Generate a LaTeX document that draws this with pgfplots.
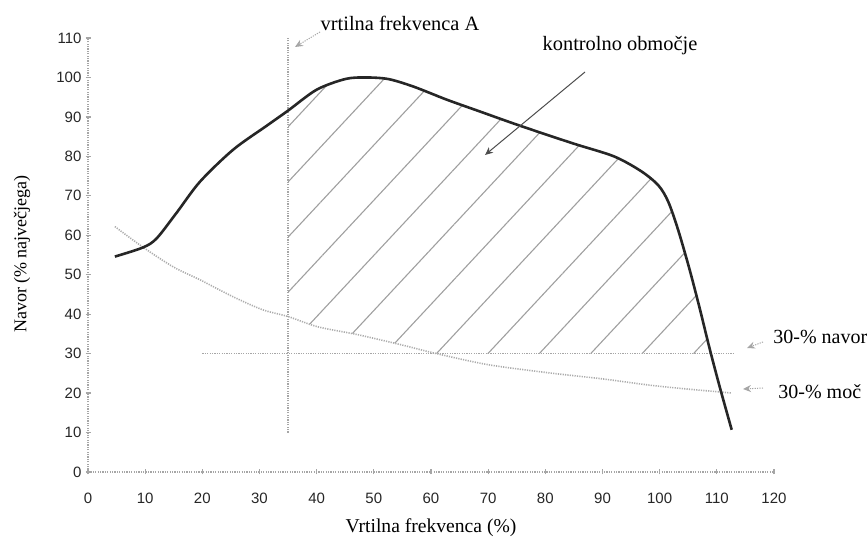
\documentclass[border=0pt]{standalone}
\usepackage{fontspec}
\setmainfont{Liberation Serif}
\newfontfamily\ticksans{Liberation Sans}
\usepackage{pgfplots}
\pgfplotsset{compat=1.18}
\usepgfplotslibrary{fillbetween}
\usetikzlibrary{patterns.meta,arrows.meta}

% full-load torque curve (% of maximum) over engine speed (%)
\pgfplotstableread{
x y
4.7 54.6
9.6 56.9
12 59.2
15.5 65.7
19.6 73.6
25.4 81.7
31.3 87.8
35 91.6
40 96.9
45 99.6
48.5 100
52.5 99.6
56.9 97.7
62.7 94.4
68.5 91.4
75.5 87.8
84.8 83.3
92 80
96.8 76.2
99.8 72.6
101.5 68.5
103.2 61.5
105.2 51.5
107 41.5
108.7 31.5
110.5 21.6
112.6 10.7
}\torque

% 30 % power curve
\pgfplotstableread{
x y
4.7 62.2
9.6 57
14.9 52
19.6 48.7
25.4 44.4
30.6 41.1
35 39.4
40.2 36.8
47.2 34.8
54.9 32.2
60.7 30.1
70 27.2
80.8 25.1
90 23.6
98.3 22
105 21
110.5 20.3
112.6 20
}\power

% lower edge of the control area: 30 % power up to the 30 % torque line
\pgfplotstableread{
x y
30.6 41.1
35 39.4
40.2 36.8
47.2 34.8
54.9 32.2
60.7 30.1
61 30
113 30
}\lowedge

\begin{document}
\begin{tikzpicture}
\begin{axis}[
  scale only axis, width=343pt, height=217pt,
  xmin=0, xmax=120, ymin=0, ymax=110,
  axis lines=left,
  axis line style={-, gray!70, line width=0.8pt, dash pattern=on 0.6pt off 0.6pt},
  xtick={0,10,...,120}, ytick={0,10,...,110},
  tick style={gray!70, line width=0.6pt}, major tick length=2.5pt, tick align=center,
  /pgf/number format/assume math mode=true,
  ticklabel style={font=\ticksans\fontsize{7.5}{8}\selectfont, text=black!85},
  xticklabel style={yshift=-5.5pt},
  yticklabel style={xshift=1.5pt},
  clip=false,
]
% control area hatching
\addplot[name path=torque, draw=none, forget plot] table {\torque};
\addplot[name path=lower, draw=none, forget plot] table {\lowedge};
\addplot[pattern={Lines[angle=47,distance=18.8pt,line width=0.55pt]}, pattern color=gray!75, draw=none]
  fill between[of=torque and lower, soft clip={domain=35:108.8}];
% 30 % torque line and speed A
\addplot[gray!70, line width=0.7pt, dash pattern=on 0.6pt off 0.6pt] coordinates {(20,30) (113,30)};
\addplot[gray!70, line width=0.7pt, dash pattern=on 0.6pt off 0.6pt] coordinates {(35,10) (35,110)};
% 30 % power curve
\addplot[gray!65, line width=0.8pt, dash pattern=on 0.6pt off 0.6pt, smooth] table {\power};
% full-load torque
\addplot[black!85, line width=1.3pt, smooth] table {\torque};
\end{axis}

% axis titles
\node[font=\fontsize{9.8}{12}\selectfont] at (171.5pt,-28pt) {Vrtilna frekvenca (\%)};
\node[font=\fontsize{9}{11}\selectfont, rotate=90] at (-33pt,109pt) {Navor (\% največjega)};

% annotations
\begin{scope}[font=\fontsize{10.2}{12}\selectfont]
\node at (156pt,224.5pt) {vrtilna frekvenca A};
\node at (266pt,213pt) {kontrolno območje};
\end{scope}
\begin{scope}[font=\fontsize{10}{12}\selectfont]
\node[anchor=west, inner sep=0pt] at (342.5pt,67.5pt) {30-\% navor};
\node[anchor=west, inner sep=0pt] at (345pt,40pt) {30-\% moč};
\end{scope}
\begin{scope}[-{Stealth[length=4pt,width=3.5pt]}, line width=0.5pt]
\draw[gray!70, dash pattern=on 0.6pt off 0.6pt] (116pt,220pt) -- (103.5pt,212.5pt);
\draw[black!70] (248.5pt,200pt) -- (198.5pt,158.5pt);
\draw[gray!70, dash pattern=on 0.6pt off 0.6pt] (337.5pt,65pt) -- (329.5pt,62pt);
\draw[gray!70, dash pattern=on 0.6pt off 0.6pt] (337.5pt,42pt) -- (327.5pt,41.5pt);
\end{scope}

\pgfresetboundingbox
\path[use as bounding box] (-44pt,-37pt) rectangle (390pt,236pt);
\end{tikzpicture}
\end{document}
